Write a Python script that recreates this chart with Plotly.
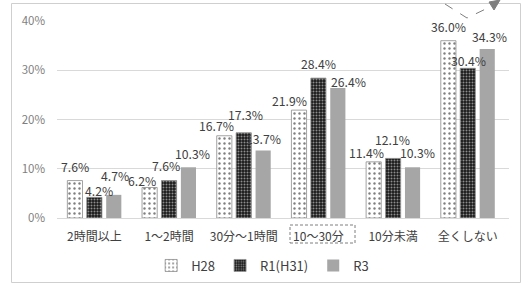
import plotly.graph_objects as go

categories = ["2時間以上", "1～2時間", "30分～1時間", "10～30分", "10分未満", "全くしない"]
series_names = ["H28", "R1(H31)", "R3"]
h28 = [7.6, 6.2, 16.7, 21.9, 11.4, 36.0]
r1 = [4.2, 7.6, 17.3, 28.4, 12.1, 30.4]
r3 = [4.7, 10.3, 13.7, 26.4, 10.3, 34.3]
y_ticks = [0, 10, 20, 30, 40]
y_tick_labels = ["0%", "10%", "20%", "30%", "40%"]

# label nudges (pixels) mimicking the reference's staggered data labels
label_dx = [
    [0, -7, -8, -9, -7, 0],
    [5, -3, 2, 0, -1, 1],
    [1, 4, 0, 10, 5, 2],
]
label_dy = [
    [14, 6, 10, 9, 9, 14],
    [6, 15, 18, 14, 18, 7],
    [19, 13, 12, 6, 14, 12],
]

values = [h28, r1, r3]
styles = [
    dict(color="white", line=dict(color="#8c8c8c", width=0.8),
         pattern=dict(shape=".", bgcolor="white", fgcolor="#000000", size=5, solidity=0.18)),
    dict(color="#333333", line=dict(color="#8c8c8c", width=0.8),
         pattern=dict(shape=".", bgcolor="#1a1a1a", fgcolor="#ffffff", size=3, solidity=0.35)),
    dict(color="#a6a6a6", line=dict(color="#a6a6a6", width=0)),
]

fig = go.Figure()
for name, vals, st in zip(series_names, values, styles):
    fig.add_trace(go.Bar(x=categories, y=vals, name=name, marker=st))

bar_offsets = [-19.7, 0, 19.7]
annotations = []
for s, vals in enumerate(values):
    for i, v in enumerate(vals):
        annotations.append(dict(
            x=categories[i], y=v, xref="x", yref="y",
            text=f"{v:.1f}%", showarrow=False,
            xshift=bar_offsets[s] + label_dx[s][i], yshift=label_dy[s][i],
            yanchor="middle", xanchor="center",
            font=dict(size=12.2, color="#404040", family="Noto Sans CJK JP"),
        ))

# plot area pixel geometry: x 57..509, y 21..218
def px(xp):
    return (xp - 57) / 452

def py(yp):
    return (218 - yp) / 197

shapes = [
    # outer chart border
    dict(type="rect", xref="paper", yref="paper",
         x0=px(11.5), x1=px(520.5), y0=py(282.5), y1=py(3.5),
         line=dict(color="#cfcfcf", width=1), fillcolor="rgba(0,0,0,0)"),
    # dashed box around category label
    dict(type="rect", xref="paper", yref="paper",
         x0=px(290), x1=px(355), y0=py(243), y1=py(225),
         line=dict(color="#7f7f7f", width=1, dash="3px,2px"), fillcolor="rgba(0,0,0,0)"),
    # dashed arrow decoration at top right
    dict(type="path", xref="paper", yref="paper",
         path=f"M {px(445)} {py(4)} L {px(467)} {py(18)} L {px(494)} {py(5)}",
         line=dict(color="#7f7f7f", width=1, dash="dash")),
    dict(type="path", xref="paper", yref="paper",
         path=f"M {px(489)} {py(2)} L {px(500)} {py(0)} L {px(494)} {py(10)} Z",
         line=dict(color="#7f7f7f", width=1), fillcolor="#7f7f7f"),
]

fig.update_layout(
    width=526, height=284,
    margin=dict(l=57, r=17, t=21, b=66, autoexpand=False),
    paper_bgcolor="white", plot_bgcolor="white",
    barmode="group", bargap=0.22, bargroupgap=0.22,
    font=dict(family="Noto Sans CJK JP", color="#404040"),
    annotations=annotations, shapes=shapes,
    legend=dict(orientation="h", x=0.455, xanchor="center", y=-0.165, yanchor="top",
                font=dict(size=13, color="#404040"), itemwidth=30, tracegroupgap=0,
                bgcolor="rgba(0,0,0,0)"),
    showlegend=True,
)
fig.update_xaxes(showgrid=False, showline=True, linecolor="#d9d9d9", linewidth=1,
                 tickfont=dict(size=12, color="#404040"), ticks="", fixedrange=True,
                 ticklabelstandoff=8, automargin=False)
fig.update_yaxes(range=[0, 40], tickvals=y_ticks, ticktext=y_tick_labels,
                 showgrid=True, gridcolor="#d9d9d9", gridwidth=1, zeroline=False,
                 showline=False, tickfont=dict(size=11.5, color="#7f7f7f"), ticks="",
                 ticklabelstandoff=11, automargin=False, fixedrange=True)

fig.write_html("out.html", config={"displayModeBar": False},
               post_script="document.body.style.margin='0';document.body.style.overflow='hidden';")
